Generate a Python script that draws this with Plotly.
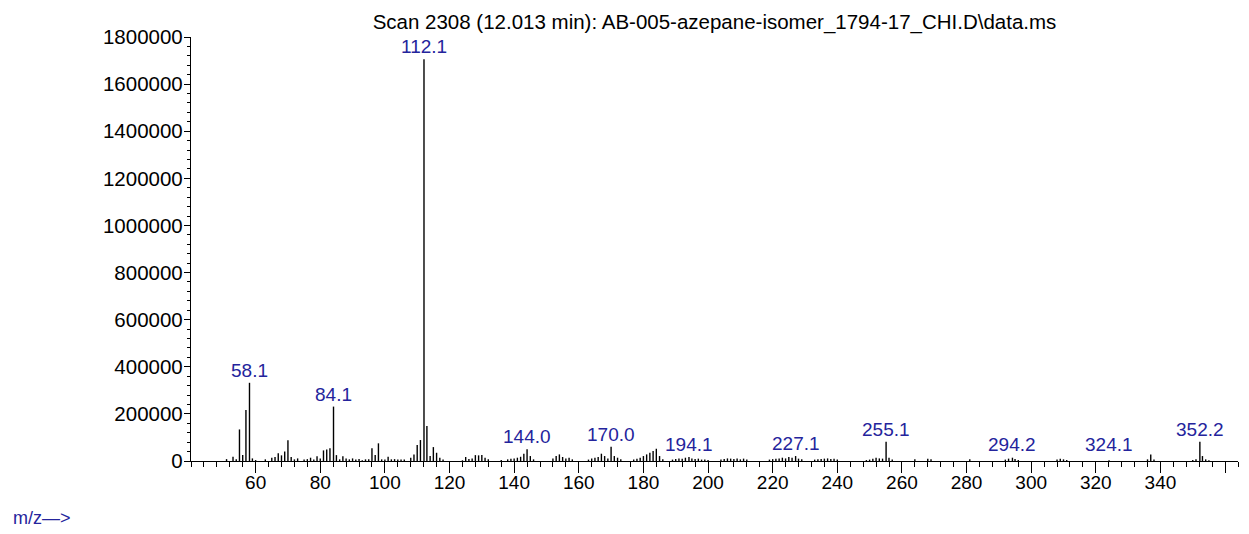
import plotly.graph_objects as go

# ---- data ----
mz = [51, 53, 54, 55, 56, 57, 58.1, 59, 60, 63, 65, 66, 67, 68, 69, 70, 71, 72, 73,
      75, 76, 77, 78, 79, 80, 81, 82, 83, 84.1, 85, 86, 87, 88, 89, 90,
      91, 92, 93, 94, 95, 96, 97, 98, 99, 100, 101, 102, 103, 104, 105, 106,
      108, 109, 110, 111, 112.1, 113, 114, 115, 116, 117, 118,
      124, 125, 126, 127, 128, 129, 130, 131, 132, 136, 138, 139, 140, 141, 142, 143, 144.0,
      145, 146, 152, 153, 154, 155, 156, 157, 158, 163, 164, 165, 166, 167, 168, 169,
      170.0, 171, 172, 173, 177, 178, 179, 180, 181, 182, 183, 184, 185, 186,
      189, 190, 191, 192, 193, 194.1, 195, 196, 197, 198, 199, 200,
      204, 205, 206, 207, 208, 209, 210, 211, 212,
      219, 220, 221, 222, 223, 224, 225, 226, 227.1, 228, 229,
      233, 234, 235, 236, 237, 238, 239, 240,
      249, 250, 251, 252, 253, 254, 255.1, 256, 257, 264, 268, 269, 281,
      292, 293, 294.2, 295, 296, 308, 309, 310, 311, 324.1, 336, 337, 338,
      350, 351, 352.2, 353, 354, 355]
intensity = [8000, 18000, 7000, 134000, 25000, 216000, 332000, 11000, 4000, 7000, 14000, 17000, 33000, 24000, 40000, 88000, 17000, 7000, 11000,
             6000, 8000, 14000, 6000, 20000, 11000, 45000, 49000, 54000, 231000, 25000, 7000, 20000, 11000, 7000, 11000,
             6000, 8000, 3000, 7000, 7000, 54000, 25000, 75000, 7000, 6000, 18000, 7000, 8000, 6000, 6000, 6000,
             14000, 28000, 68000, 89000, 1706000, 149000, 21000, 59000, 35000, 14000, 6000,
             3000, 17000, 8000, 11000, 25000, 24000, 25000, 14000, 7000, 4000, 7000, 10000, 11000, 14000, 18000, 31000, 50000,
             21000, 7000, 11000, 21000, 28000, 17000, 11000, 14000, 7000, 6000, 11000, 14000, 17000, 31000, 21000, 11000,
             61000, 21000, 14000, 7000, 6000, 10000, 14000, 21000, 28000, 35000, 42000, 52000, 21000, 7000,
             6000, 8000, 11000, 10000, 14000, 17000, 11000, 8000, 10000, 6000, 6000, 4000,
             6000, 8000, 11000, 10000, 8000, 11000, 7000, 10000, 6000,
             6000, 8000, 10000, 11000, 14000, 11000, 17000, 14000, 21000, 10000, 7000,
             6000, 7000, 8000, 10000, 11000, 8000, 10000, 6000,
             4000, 6000, 10000, 14000, 11000, 10000, 82000, 14000, 6000, 7000, 10000, 7000, 7000,
             6000, 10000, 14000, 8000, 4000, 6000, 10000, 7000, 4000, 3000, 7000, 28000, 6000,
             4000, 7000, 82000, 21000, 7000, 3000]

labelled_mz = [58.1, 84.1, 112.1, 144.0, 170.0, 194.1, 227.1, 255.1, 294.2, 324.1, 352.2]

x_tickvals = [60, 80, 100, 120, 140, 160, 180, 200, 220, 240, 260, 280, 300, 320, 340, 360]
x_ticktext = ["60", "80", "100", "120", "140", "160", "180", "200", "220", "240",
              "260", "280", "300", "320", "340", ""]
y_tickvals = [0, 200000, 400000, 600000, 800000, 1000000, 1200000, 1400000, 1600000, 1800000]

title_text = "Scan 2308 (12.013 min): AB-005-azepane-isomer_1794-17_CHI.D\\data.ms"

# ---- build stick spectrum ----
xs, ys = [], []
for m, v in zip(mz, intensity):
    xs += [m, m, None]
    ys += [0, v, None]

FONT = "Liberation Sans, Arial, sans-serif"
BLUE = "#24249c"
W, H = 1241, 526

fig = go.Figure()
fig.add_trace(go.Scatter(x=xs, y=ys, mode="lines",
                         line=dict(color="black", width=1.4),
                         hoverinfo="skip", showlegend=False))

lookup = dict(zip(mz, intensity))
for m in labelled_mz:
    fig.add_annotation(x=m, y=max(lookup[m], 15000), text=f"{m:.1f}",
                       showarrow=False, xanchor="center", yanchor="bottom",
                       yshift=0, font=dict(family=FONT, size=19, color=BLUE))

fig.add_annotation(xref="paper", yref="paper", x=-0.172, y=-0.134,
                   text="m/z\u2014>", showarrow=False, xanchor="left", yanchor="middle",
                   font=dict(family=FONT, size=18, color=BLUE))

fig.update_layout(
    width=W, height=H,
    margin=dict(l=183, r=11, t=29, b=73),
    paper_bgcolor="white", plot_bgcolor="white",
    font=dict(family=FONT, size=19, color="black"),
    title=dict(text=title_text, x=0.5, xref="paper", xanchor="center",
               y=1 - 14 / H, yref="container", yanchor="middle",
               font=dict(family=FONT, size=20.5, color="black")),
    showlegend=False,
)
fig.update_xaxes(range=[40, 364], showgrid=False, zeroline=False,
                 showline=True, linecolor="black", linewidth=1.3,
                 tickvals=x_tickvals, ticktext=x_ticktext,
                 ticks="outside", ticklen=11, tickwidth=1.3, tickcolor="black",
                 ticklabelstandoff=-7,
                 tickfont=dict(family=FONT, size=19, color="black"),
                 minor=dict(tick0=0, dtick=4, ticks="outside", ticklen=5,
                            tickwidth=1.2, tickcolor="black"))
fig.update_yaxes(range=[0, 1800000], showgrid=False, zeroline=False,
                 showline=True, linecolor="black", linewidth=1.3,
                 tickvals=y_tickvals, tickformat="d",
                 ticks="outside", ticklen=6, tickwidth=1.3, tickcolor="black",
                 ticklabelstandoff=-3,
                 tickfont=dict(family=FONT, size=20.5, color="black"),
                 minor=dict(tick0=0, dtick=40000, ticks="outside", ticklen=3,
                            tickwidth=1.2, tickcolor="black"))

fig.write_html("out.html")
